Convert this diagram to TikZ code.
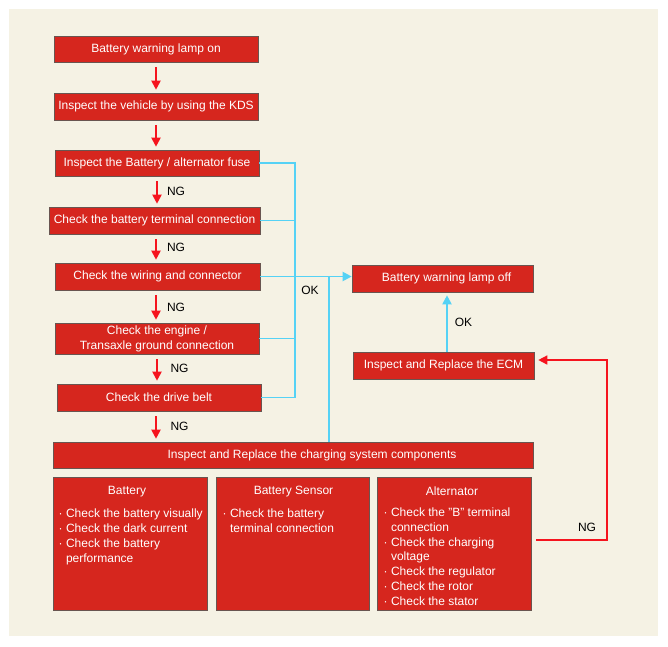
\documentclass[tikz,border=0pt]{standalone}
\usepackage{fontspec}
\setmainfont{Liberation Sans}
\usetikzlibrary{arrows.meta}
\definecolor{bgc}{RGB}{245,242,228}
\definecolor{boxred}{RGB}{214,38,30}
\definecolor{boxedge}{RGB}{105,85,80}
\definecolor{cyanl}{RGB}{85,210,245}
\definecolor{redl}{RGB}{245,20,30}
\newcommand\myb{·\ }
\newcommand\myind{\hphantom{·\ }}
\tikzset{
  box/.style={draw=boxedge, line width=0.6pt, fill=boxred, text=white, inner sep=0pt,
    font=\fontsize{12}{15}\selectfont, align=center},
  head/.style={text=white, inner sep=0pt, font=\fontsize{12}{15}\selectfont},
  lst/.style={text=white, inner sep=0pt, align=left, anchor=north west},
  lbl/.style={text=black, inner sep=0pt, font=\fontsize{12}{14}\selectfont},
  redarrow/.style={draw=redl, line width=1.9pt, -{Triangle[length=9pt,width=9pt]}},
  redline/.style={draw=redl, line width=1.5pt},
  cyl/.style={draw=cyanl, line width=1.9pt},
  tri/.tip={Triangle[length=9pt,width=9pt]}
}
\begin{document}
\begin{tikzpicture}[x=1pt,y=-1pt]
\useasboundingbox (0,0) rectangle (668,646);
\fill[white] (0,0) rectangle (668,646);
\fill[bgc] (9,9) rectangle (658,636);

% main column
\node[box, minimum width=204pt, minimum height=26pt] (b1) at (156,49) {Battery warning lamp on};
\node[box, minimum width=204pt, minimum height=27pt] (b2) at (156,106.5) {Inspect the vehicle by using the KDS};
\node[box, minimum width=204pt, minimum height=26pt] (b3) at (157,163) {Inspect the Battery / alternator fuse};
\node[box, minimum width=211pt, minimum height=27pt] (b4) at (154.5,220.5) {Check the battery terminal connection};
\node[box, minimum width=205pt, minimum height=27pt] (b5) at (157.5,276.5) {Check the wiring and connector};
\node[box, minimum width=204pt, minimum height=31pt] (b6) at (157,338.5) {Check the engine /\\Transaxle ground connection};
\node[box, minimum width=204pt, minimum height=27pt] (b7) at (159,397.5) {Check the drive belt};
\node[box, minimum width=480pt, minimum height=26pt] (b8) at (293,455) {\hspace*{38pt}Inspect and Replace the charging system components};

% right column
\node[box, minimum width=181pt, minimum height=27pt] (off) at (442.5,278.5) {\hspace*{8pt}Battery warning lamp off};
\node[box, minimum width=181pt, minimum height=27pt] (ecm) at (443.5,365.5) {Inspect and Replace the ECM};

% bottom boxes
\node[box, minimum width=154pt, minimum height=133pt] (bat) at (130,543.5) {};
\node[box, minimum width=153pt, minimum height=133pt] (sen) at (292.5,543.5) {};
\node[box, minimum width=154pt, minimum height=133pt] (alt) at (454,543.5) {};

\node[head] (hbat) at (127,492) {Battery};
\node[head] (hsen) at (293.5,492) {Battery Sensor};
\node[head] (halt) at (452,491) {Alternator};

\node[lst, font=\fontsize{12}{15}\selectfont] (lbat) at (58.5,508.5)
  {\myb Check the battery visually\\\myb Check the dark current\\\myb Check the battery\\\myind performance};
\node[lst, font=\fontsize{12}{15}\selectfont] (lsen) at (222.5,508.5)
  {\myb Check the battery\\\myind terminal connection};
\node[lst, font=\fontsize{12}{14.8}\selectfont] (lalt) at (383.5,507.5)
  {\myb Check the "B" terminal\\\myind connection\\\myb Check the charging\\\myind voltage\\\myb Check the regulator\\\myb Check the rotor\\\myb Check the stator};

% red arrows down
\draw[redarrow, shorten <=5pt, shorten >=3pt] (b1.south) -- (b1.south |- b2.north);
\draw[redarrow, shorten <=5pt, shorten >=3pt] (b2.south) -- (b2.south |- b3.north);
\draw[redarrow, shorten <=5pt, shorten >=3pt] (b3.south) -- (b3.south |- b4.north);
\draw[redarrow, shorten <=5pt, shorten >=3pt] ([xshift=1.5pt]b4.south) -- ([xshift=1.5pt]b4.south |- b5.north);
\draw[redarrow, shorten <=5pt, shorten >=3pt] ([xshift=-1.5pt]b5.south) -- ([xshift=-1.5pt]b5.south |- b6.north);
\draw[redarrow, shorten <=5pt, shorten >=3pt] (b6.south) -- (b6.south |- b7.north);
\draw[redarrow, shorten <=5pt, shorten >=3pt] ([xshift=-3pt]b7.south) -- ([xshift=-3pt]b7.south |- b8.north);

\node[lbl] (ng1) at (176,191.5) {NG};
\node[lbl] (ng2) at (176,247) {NG};
\node[lbl] (ng3) at (176,307) {NG};
\node[lbl] (ng4) at (179.5,368) {NG};
\node[lbl] (ng5) at (179.5,426) {NG};

% cyan OK connectors
\coordinate (bus) at (295,0);
\draw[cyl] (b3.east) -- (b3.east -| bus) -- (b7.east -| bus) -- (b7.east);
\draw[cyl] (b4.east) -- (b4.east -| bus);
\draw[cyl] (b6.east) -- (b6.east -| bus);
\draw[cyl, -tri] (b5.east) -- (b5.east -| off.west);
\coordinate (sp) at (329,0);
\draw[cyl] (b5.east -| sp) -- (sp |- b8.north);
\node[lbl] (ok1) at (310,290) {OK};

\draw[cyl, -tri, shorten >=3pt] ([xshift=3.5pt]ecm.north) -- ([xshift=3.5pt]ecm.north |- off.south);
\node[lbl] (ok2) at (463.5,322) {OK};

% red NG return
\coordinate (nr) at (607,540);
\coordinate (nt) at (607,360);
\draw[redline, -tri, shorten <=5pt, shorten >=4pt] (nr -| alt.east) -- (nr) -- (nt) -- (nt -| ecm.east);
\node[lbl] (ng6) at (587,527) {NG};
\end{tikzpicture}
\end{document}
